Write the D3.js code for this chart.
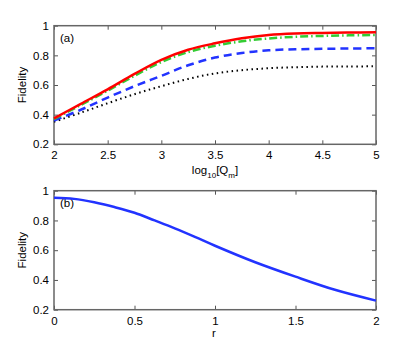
<!DOCTYPE html>
<html>
<head>
<meta charset="utf-8">
<script src="https://cdn.jsdelivr.net/npm/d3@7"></script>
<style>
  body { margin: 0; background: #fff; }
  svg { font-family: "Liberation Sans", Arial, sans-serif; }
</style>
</head>
<body>
<svg id="chart" width="415" height="349"></svg>
<script>
// panel (a): fidelity vs log10[Qm]
const logQ = [2, 2.25, 2.5, 2.75, 3, 3.25, 3.5, 3.75, 4, 4.25, 4.5, 4.75, 5];
const fidRed   = [0.375, 0.473, 0.571, 0.675, 0.77, 0.838, 0.881, 0.915, 0.937, 0.947, 0.951, 0.954, 0.955];
const fidGreen = [0.37, 0.465, 0.562, 0.662, 0.755, 0.822, 0.865, 0.895, 0.914, 0.925, 0.931, 0.935, 0.937];
const fidBlue  = [0.36, 0.433, 0.515, 0.592, 0.662, 0.733, 0.785, 0.816, 0.834, 0.841, 0.844, 0.846, 0.848];
const fidBlack = [0.352, 0.413, 0.477, 0.538, 0.592, 0.641, 0.678, 0.7, 0.713, 0.72, 0.724, 0.725, 0.726];

// panel (b): fidelity vs r
const rVals = [0, 0.125, 0.25, 0.375, 0.5, 0.625, 0.75, 0.875, 1, 1.25, 1.5, 1.75, 2];
const fidR  = [0.953, 0.945, 0.922, 0.89, 0.852, 0.80, 0.747, 0.69, 0.630, 0.519, 0.422, 0.332, 0.261];

const yTicks = [0.2, 0.4, 0.6, 0.8, 1];
const xTicksA = [2, 2.5, 3, 3.5, 4, 4.5, 5];
const xTicksB = [0, 0.5, 1, 1.5, 2];

const svg = d3.select('#chart');
const left = 54, right = 376;

function panel(top, bottom, xdom, xticks, label) {
    const g = svg.append('g');
    const x = d3.scaleLinear().domain(xdom).range([left, right]);
    const y = d3.scaleLinear().domain([0.2, 1]).range([bottom, top]);

    const tickFmt = d => d3.format('~g')(d);

    // inward ticks on all four sides
    const axes = [
        {ax: d3.axisBottom(x).tickValues(xticks).tickFormat(tickFmt), t: `translate(0,${bottom})`},
        {ax: d3.axisTop(x).tickValues(xticks).tickFormat(''), t: `translate(0,${top})`},
        {ax: d3.axisLeft(y).tickValues(yTicks).tickFormat(tickFmt), t: `translate(${left},0)`},
        {ax: d3.axisRight(y).tickValues(yTicks).tickFormat(''), t: `translate(${right},0)`}
    ];
    axes.forEach((a, i) => {
        const ag = g.append('g').attr('transform', a.t)
            .call(a.ax.tickSizeInner(-4).tickSizeOuter(0).tickPadding(i === 0 ? 7 : 5));
        ag.select('.domain').remove();
        ag.selectAll('line').attr('stroke', '#555').attr('stroke-width', 1);
        ag.selectAll('text').attr('fill', '#000').style('font-size', '11.5px');
    });

    g.append('rect')
        .attr('x', left).attr('y', top)
        .attr('width', right - left).attr('height', bottom - top)
        .attr('fill', 'none').attr('stroke', '#666').attr('stroke-width', 1.5);

    g.append('text')
        .attr('transform', `translate(26,${(top + bottom) / 2}) rotate(-90)`)
        .attr('text-anchor', 'middle')
        .style('font-size', '11.5px')
        .text('Fidelity');

    g.append('text')
        .attr('x', left + 6).attr('y', top + 16)
        .style('font-size', '11.5px')
        .text(label);

    return {g, x, y};
}

const pa = panel(25.7, 144.3, [2, 5], xTicksA, '(a)');
const pb = panel(190.7, 309.7, [0, 2], xTicksB, '(b)');

// x labels
const xl = svg.append('text')
    .attr('x', 215).attr('y', 174)
    .attr('text-anchor', 'middle')
    .style('font-size', '11.5px');
xl.append('tspan').text('log');
xl.append('tspan').attr('dy', 4).style('font-size', '8px').text('10');
xl.append('tspan').attr('dy', -4).text('[Q');
xl.append('tspan').attr('dy', 4).style('font-size', '8px').text('m');
xl.append('tspan').attr('dy', -4).text(']');

svg.append('text')
    .attr('x', 214).attr('y', 337)
    .attr('text-anchor', 'middle')
    .style('font-size', '11.5px')
    .text('r');

// curves in panel (a)
const seriesA = [
    {vals: fidBlack, color: '#000', dash: '1.5,3.5', w: 2},
    {vals: fidBlue, color: '#2233ff', dash: '8,5', w: 2.5},
    {vals: fidGreen, color: '#33cc33', dash: '8,3,1.5,3', w: 2.5},
    {vals: fidRed, color: '#ff0000', dash: null, w: 2.5}
];
const lineA = d3.line().x(d => pa.x(d[0])).y(d => pa.y(d[1])).curve(d3.curveCatmullRom.alpha(0.5));
seriesA.forEach(s => {
    pa.g.append('path')
        .datum(logQ.map((q, i) => [q, s.vals[i]]))
        .attr('d', lineA)
        .attr('fill', 'none')
        .attr('stroke', s.color)
        .attr('stroke-width', s.w)
        .attr('stroke-dasharray', s.dash);
});

// curve in panel (b)
const lineB = d3.line().x(d => pb.x(d[0])).y(d => pb.y(d[1])).curve(d3.curveCatmullRom.alpha(0.5));
pb.g.append('path')
    .datum(rVals.map((r, i) => [r, fidR[i]]))
    .attr('d', lineB)
    .attr('fill', 'none')
    .attr('stroke', '#2233ff')
    .attr('stroke-width', 2.5);
</script>
</body>
</html>
